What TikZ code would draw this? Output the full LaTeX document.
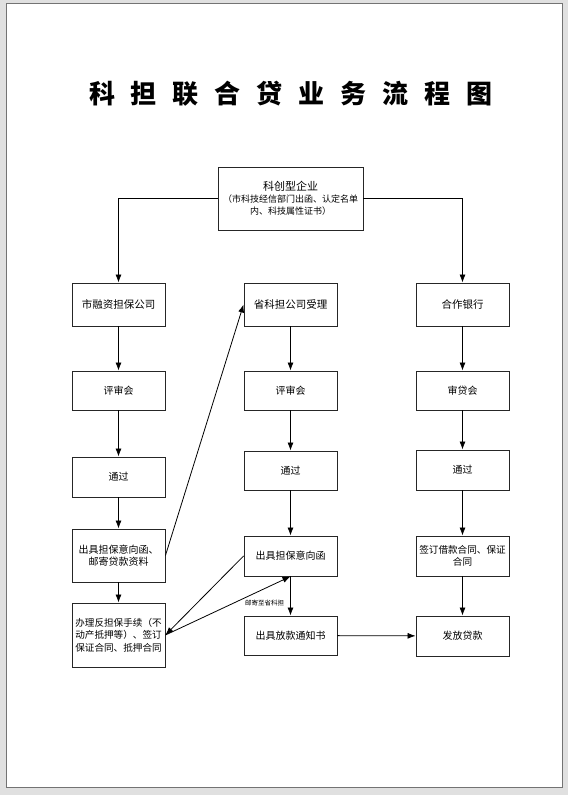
\documentclass[tikz,border=0pt]{standalone}
\usepackage{fontspec}
\setmainfont{Noto Sans CJK SC}
\usetikzlibrary{positioning,arrows.meta}
\tikzset{
 box/.style
  = {rectangle, draw=black!85, line width=0.9pt, fill=white, minimum width=93pt,
     minimum height=40pt, inner sep=1pt, align=center,
     font=\fontsize{10}{12.5}\selectfont},
 l/.style
  = {draw, line width=0.8pt, -{Latex[length=8pt,width=6pt]}},
 lab/.style
  = {font=\fontsize{6.5}{7}\selectfont, inner sep=1pt},
 ttl/.style
  = {font=\fontsize{26}{30}\selectfont\bfseries, inner sep=0pt},
}
\newcommand{\tsp}{\hspace{16pt}}

\begin{document}
\begin{tikzpicture}[x=1pt,y=-1pt]

% Page
\useasboundingbox (0,0) rectangle (568,795);
\fill[black!12] (0,0) rectangle (568,795);
\draw[black!55, fill=white, line width=0.7pt] (6,3) rectangle (562,787);

% Title
\node[ttl] (title) at (291,94)
  {科\tsp 担\tsp 联\tsp 合\tsp 贷\tsp 业\tsp 务\tsp 流\tsp 程\tsp 图};

% Enterprise
\node[box, minimum width=145pt, minimum height=63pt, font=\fontsize{9}{12}\selectfont] (qy) at (290.5,198.5)
  {{\fontsize{11}{14}\selectfont 科创型企业}\\
   （市科技经信部门出函、认定名单\\内、科技属性证书）};

% Left column
\node[box, minimum height=43pt, font=\fontsize{10.5}{12.5}\selectfont] (rz) at (118.5,304.5) {市融资担保公司};
\node[box, minimum height=39pt] (lps) at (118.5,390.5) {评审会};
\node[box] (ltg) at (118.5,477) {通过};
\node[box, minimum height=53pt] (lcj) at (118.5,555.5) {出具担保意向函、\\邮寄贷款资料};
\node[box, minimum height=64pt, font=\fontsize{9.6}{12.5}\selectfont] (lbl) at (118.5,635)
  {办理反担保手续（不\\动产抵押等）、签订\\保证合同、抵押合同};

% Middle column
\node[box, minimum height=43pt, font=\fontsize{10.5}{12.5}\selectfont] (skd) at (290.5,304.5) {省科担公司受理};
\node[box, minimum height=39pt] (mps) at (290.5,390.5) {评审会};
\node[box, minimum height=39pt] (mtg) at (290.5,470.5) {通过};
\node[box] (mcj) at (290.5,556) {出具担保意向函};
\node[box, minimum height=39pt] (mfk) at (290.5,635.5) {出具放款通知书};

% Right column
\node[box, minimum height=43pt, font=\fontsize{10.5}{12.5}\selectfont] (hz) at (462.5,304.5) {合作银行};
\node[box, minimum height=39pt] (rsd) at (462.5,390.5) {审贷会};
\node[box] (rtg) at (462.5,470) {通过};
\node[box, font=\fontsize{9.6}{12.5}\selectfont] (rqd) at (462.5,556) {签订借款合同、保证\\合同};
\node[box] (rff) at (462.5,636) {发放贷款};

% Connectors
\draw[l] (qy.west) -| (rz.north);
\draw[l] (qy.east) -| (hz.north);

\draw[l] (rz) -- (lps);
\draw[l] (lps) -- (ltg);
\draw[l] (ltg) -- (lcj);
\draw[l] (lcj) -- (lbl);

\draw[l] (skd) -- (mps);
\draw[l] (mps) -- (mtg);
\draw[l] (mtg) -- (mcj);
\draw[l] (mcj) -- node[lab, pos=0.68, left=5pt] (yj) {邮寄至省科担} (mfk);

\draw[l] (hz) -- (rsd);
\draw[l] (rsd) -- (rtg);
\draw[l] (rtg) -- (rqd);
\draw[l] (rqd) -- (rff);

\draw[l] (lcj.east) -- (skd.west);
\draw[l] (mcj.west) -- (lbl.east);
\draw[l] (lbl.east) -- (mcj.south);
\draw[l] (mfk) -- (rff);

\end{tikzpicture}
\end{document}
